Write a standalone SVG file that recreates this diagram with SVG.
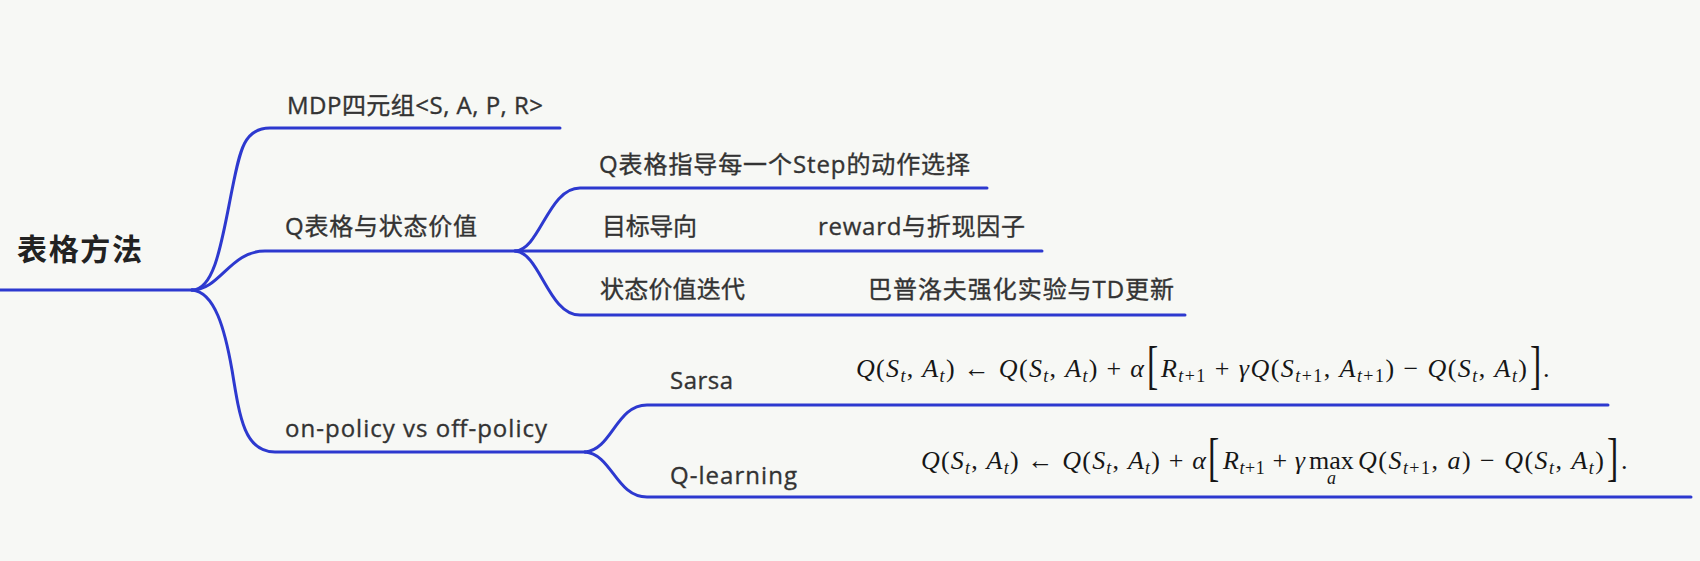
<svg xmlns="http://www.w3.org/2000/svg" width="1700" height="561" viewBox="0 0 1700 561">
<style>
.t{font-family:"Open Sans","Noto Sans CJK SC",sans-serif;font-size:24px;fill:#333333;stroke:#333333;stroke-width:0.35px}
.root{font-family:"Noto Sans CJK SC",sans-serif;font-size:30px;font-weight:700;fill:#222222}
.f{font-family:"Liberation Serif","DejaVu Serif",serif;font-style:italic;font-size:26px;fill:#161616}
.u{font-style:normal}
.s{font-size:18px}
.br{font-family:"Liberation Serif","DejaVu Serif",serif;font-size:52px;fill:#161616}
.c{fill:none;stroke:#2d39cf;stroke-width:3;stroke-linecap:round;stroke-linejoin:round}
</style>
<rect width="1700" height="561" fill="#f7f8f5"/>
<g id="connectors">
<path class="c" d="M0,290 H192"/>
<path class="c" d="M192,290 C215,290 222,240 232,190 C240,150 244,128 270,128 H560"/>
<path class="c" d="M192,290 C220,290 230,251 265,251 H1042"/>
<path class="c" d="M192,290 C215,292 225,330 232,370 C240,420 245,452 275,452 H585"/>
<path class="c" d="M515,251 C540,250 548,188 580,188 H987"/>
<path class="c" d="M515,251 C540,252 548,315 580,315 H1185"/>
<path class="c" d="M585,452 C612,450 616,405 647,405 H1608"/>
<path class="c" d="M585,452 C612,454 616,497 647,497 H1691"/>
</g>
<g id="root"><text class="root" x="17" y="260" textLength="125">表格方法</text></g>
<g id="mdp"><text class="t" x="287" y="114" textLength="256">MDP四元组&lt;S, A, P, R&gt;</text></g>
<g id="qtable"><text class="t" x="285" y="235" textLength="192">Q表格与状态价值</text></g>
<g id="qguide"><text class="t" x="599" y="173" textLength="371">Q表格指导每一个Step的动作选择</text></g>
<g id="goal"><text class="t" x="602" y="235" textLength="95">目标导向</text></g>
<g id="reward"><text class="t" x="818" y="235" textLength="207">reward与折现因子</text></g>
<g id="stateiter"><text class="t" x="600" y="298" textLength="145">状态价值迭代</text></g>
<g id="bellman"><text class="t" x="868" y="298" textLength="306">巴普洛夫强化实验与TD更新</text></g>
<g id="policy"><text class="t" x="285" y="437" textLength="262">on-policy vs off-policy</text></g>
<g id="sarsa"><text class="t" x="670" y="389" textLength="63">Sarsa</text></g>
<g id="qlearning"><text class="t" x="670" y="484" textLength="127">Q-learning</text></g>
<g id="sarsa-formula">
<text class="f" x="856" y="377" textLength="288">Q<tspan class="u">(</tspan>S<tspan class="s" dy="5">t</tspan><tspan class="u" dy="-5">, </tspan>A<tspan class="s" dy="5">t</tspan><tspan class="u" dy="-5">) ← </tspan>Q<tspan class="u">(</tspan>S<tspan class="s" dy="5">t</tspan><tspan class="u" dy="-5">, </tspan>A<tspan class="s" dy="5">t</tspan><tspan class="u" dy="-5">) + </tspan>α</text>
<text class="br" transform="translate(1147,383) scale(0.65,1)">[</text>
<text class="f" x="1161" y="377" textLength="366">R<tspan class="s" dy="5">t</tspan><tspan class="s u">+1</tspan><tspan class="u" dy="-5"> + </tspan>γQ<tspan class="u">(</tspan>S<tspan class="s" dy="5">t</tspan><tspan class="s u">+1</tspan><tspan class="u" dy="-5">, </tspan>A<tspan class="s" dy="5">t</tspan><tspan class="s u">+1</tspan><tspan class="u" dy="-5">) − </tspan>Q<tspan class="u">(</tspan>S<tspan class="s" dy="5">t</tspan><tspan class="u" dy="-5">, </tspan>A<tspan class="s" dy="5">t</tspan><tspan class="u" dy="-5">)</tspan></text>
<text class="br" transform="translate(1530,383) scale(0.65,1)">]</text>
<text class="f u" x="1543" y="377">.</text>
</g>
<g id="qlearning-formula">
<text class="f" x="921" y="469" textLength="285">Q<tspan class="u">(</tspan>S<tspan class="s" dy="5">t</tspan><tspan class="u" dy="-5">, </tspan>A<tspan class="s" dy="5">t</tspan><tspan class="u" dy="-5">) ← </tspan>Q<tspan class="u">(</tspan>S<tspan class="s" dy="5">t</tspan><tspan class="u" dy="-5">, </tspan>A<tspan class="s" dy="5">t</tspan><tspan class="u" dy="-5">) + </tspan>α</text>
<text class="br" transform="translate(1208,475) scale(0.65,1)">[</text>
<text class="f" x="1223" y="469" textLength="82">R<tspan class="s" dy="5">t</tspan><tspan class="s u">+1</tspan><tspan class="u" dy="-5"> + </tspan>γ</text>
<text class="f u" x="1309" y="469">max</text>
<text class="f s" x="1327" y="484">a</text>
<text class="f" x="1358" y="469" textLength="246">Q<tspan class="u">(</tspan>S<tspan class="s" dy="5">t</tspan><tspan class="s u">+1</tspan><tspan class="u" dy="-5">, </tspan>a<tspan class="u">) − </tspan>Q<tspan class="u">(</tspan>S<tspan class="s" dy="5">t</tspan><tspan class="u" dy="-5">, </tspan>A<tspan class="s" dy="5">t</tspan><tspan class="u" dy="-5">)</tspan></text>
<text class="br" transform="translate(1607,475) scale(0.65,1)">]</text>
<text class="f u" x="1621" y="469">.</text>
</g>
</svg>
